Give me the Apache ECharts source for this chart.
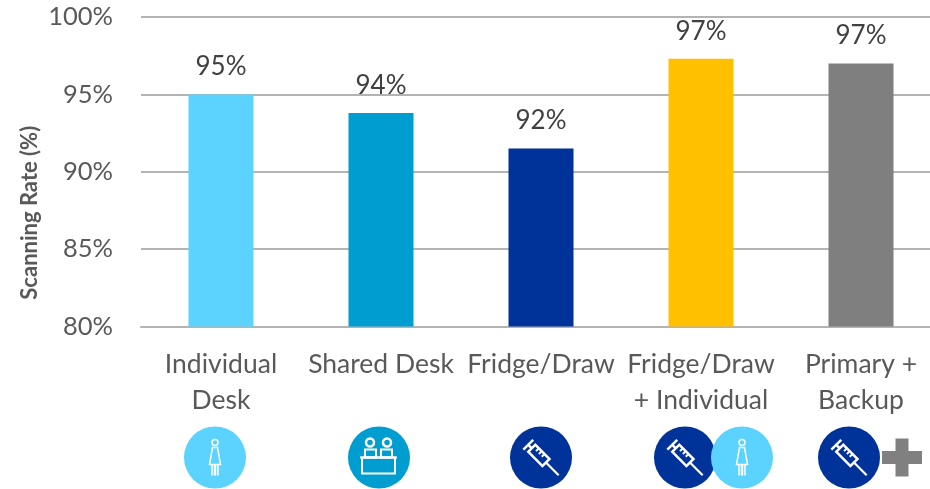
<!DOCTYPE html>
<html><head><meta charset="utf-8">
<style>html,body{margin:0;padding:0;background:#fff;overflow:hidden}#c{width:930px;height:489px}</style>
<script src="https://cdn.jsdelivr.net/npm/echarts@6/dist/echarts.min.js"></script>
</head><body><div id="c"></div>
<script>
const categories = ['Individual\nDesk', 'Shared Desk', 'Fridge/Draw', 'Fridge/Draw\n+ Individual', 'Primary +\nBackup'];
const scanningRate = [95, 93.8, 91.5, 97.3, 97];
const barColors = ['#5CD3FF', '#009DD1', '#003399', '#FFC000', '#7F7F7F'];
const iconKinds = [['person'], ['desk'], ['syringe'], ['syringe', 'person'], ['syringe', 'plus']];
const iconOffsets = [[-6], [-2], [0], [-16, 41], [-12, 41]];

const W = '#fff';
const stroke = (w) => ({ stroke: W, fill: 'none', lineWidth: w || 1.5 });
function line(x1, y1, x2, y2, w) { return { type: 'line', shape: { x1, y1, x2, y2 }, style: stroke(w) }; }
function disc(r, fill) { return { type: 'circle', shape: { cx: 0, cy: 0, r }, style: { fill } }; }
function icon(kind) {
  if (kind === 'person') return [disc(31, '#5CD3FF'),
    { type: 'circle', shape: { cx: 0, cy: -15, r: 3 }, style: stroke() },
    { type: 'polygon', shape: { points: [[-2.5, -10], [2.5, -10], [5.5, 7], [-5.5, 7]] }, style: stroke() },
    line(-3, 7, -3, 18), line(-0.5, 7, -0.5, 18), line(0.5, 7, 0.5, 18), line(3, 7, 3, 18)];
  if (kind === 'desk') return [disc(31, '#009DD1'),
    { type: 'circle', shape: { cx: -9, cy: -15, r: 4 }, style: stroke(2.5) },
    { type: 'circle', shape: { cx: 8, cy: -15, r: 4 }, style: stroke(2.5) },
    { type: 'rect', shape: { x: -14, y: -8, width: 11, height: 8 }, style: stroke(2) },
    { type: 'rect', shape: { x: 2, y: -8, width: 11, height: 8 }, style: stroke(2) },
    line(-19, 0, 18, 0, 2),
    { type: 'rect', shape: { x: -17, y: 0, width: 33, height: 16 }, style: stroke(2) }];
  if (kind === 'syringe') return [disc(31, '#003399'), {
    type: 'group', rotation: -Math.PI / 4, children: [
      { type: 'rect', shape: { x: -13, y: -5, width: 20, height: 10 }, style: stroke(2.5) },
      line(-18, -7, -18, 7, 2.5), line(-18, 0, -13, 0, 2.5),
      line(-8, -5, -8, -1, 2), line(-4, -5, -4, -1, 2), line(0, -5, 0, -1, 2),
      line(7, 0, 25, 0, 2.2)
    ]
  }];
  return [{ type: 'rect', shape: { x: -20, y: -6.5, width: 40, height: 13 }, style: { fill: '#808080' } },
    { type: 'rect', shape: { x: -6.5, y: -19, width: 13, height: 38 }, style: { fill: '#808080' } }];
}

const chart = echarts.init(document.getElementById('c'), null, { renderer: 'canvas' });
const font = 'Lato, Carlito, sans-serif';
chart.setOption({
  animation: false,
  backgroundColor: '#fff',
  grid: { left: 141, top: 17, width: 800, height: 309.5, containLabel: false, outerBoundsMode: 'none' },
  xAxis: {
    type: 'category', data: categories,
    axisLine: { show: true, lineStyle: { color: '#B3B3B3', width: 2 } },
    axisTick: { show: false },
    axisLabel: { interval: 0, color: '#595959', fontFamily: font, fontSize: 26.5, lineHeight: 36, margin: 20, hideOverlap: false }
  },
  yAxis: {
    type: 'value', min: 80, max: 100, interval: 5,
    name: 'Scanning Rate (%)', nameLocation: 'middle', nameGap: 100, nameMoveOverlap: false,
    nameTextStyle: { color: '#595959', fontFamily: font, fontSize: 22, fontWeight: 'bold', padding: [0, 82, 0, 0] },
    axisLine: { show: false }, axisTick: { show: false },
    axisLabel: { color: '#595959', fontFamily: font, fontSize: 25.5, margin: 28, formatter: (v) => v + '%' },
    splitLine: { lineStyle: { color: '#B3B3B3', width: 2 } }
  },
  series: [{
    type: 'bar', barWidth: 65,
    data: scanningRate.map((v, i) => ({ value: v, itemStyle: { color: barColors[i] } })),
    label: {
      show: true, position: 'top', distance: 14.5, color: '#404040', fontFamily: font, fontSize: 26,
      formatter: (p) => Math.round(p.value) + '%'
    }
  }, {
    type: 'custom', silent: true, clip: false, z: 5,
    data: categories.map((c, i) => i),
    encode: { x: 0 },
    renderItem: (params, api) => {
      const i = api.value(0);
      const cx = api.coord([i, 80])[0];
      const y = api.coord([i, 80])[1] + 131;
      return {
        type: 'group',
        children: iconKinds[i].map((k, j) => ({
          type: 'group', x: cx + iconOffsets[i][j], y, children: icon(k)
        }))
      };
    }
  }]
});
</script></body></html>
